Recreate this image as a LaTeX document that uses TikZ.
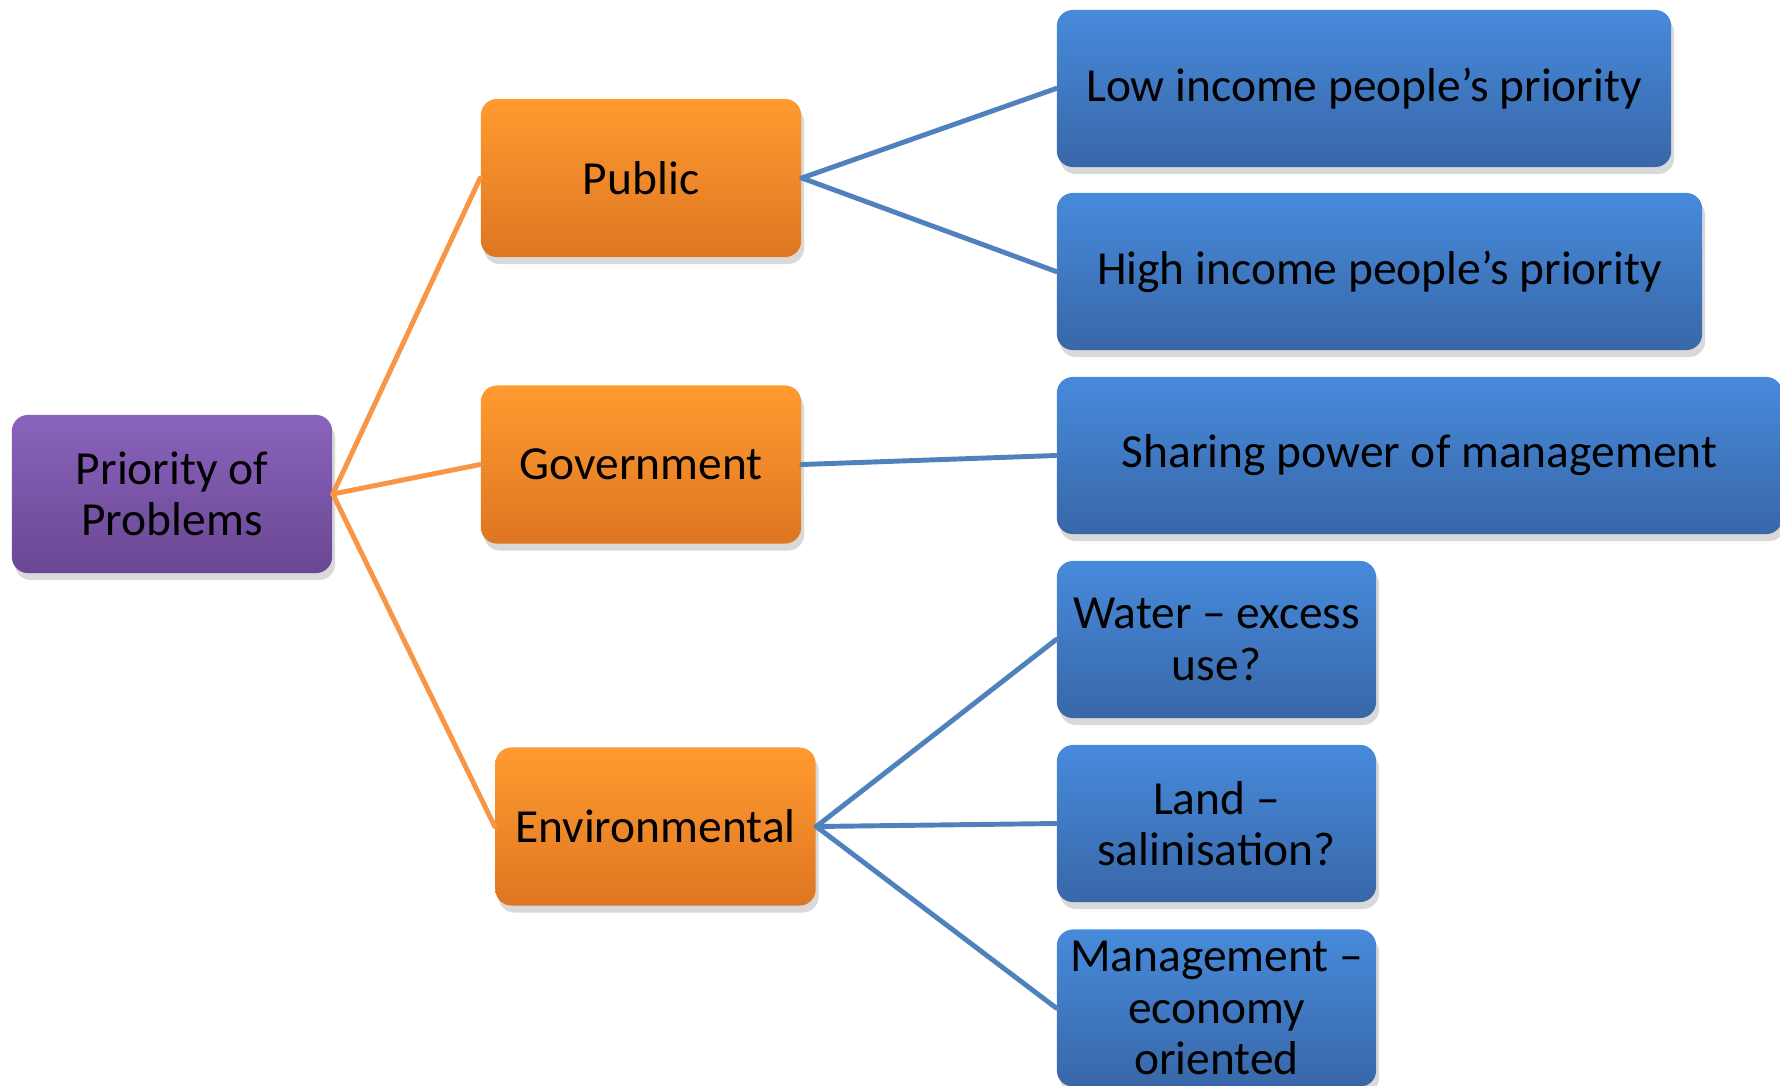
\documentclass[tikz,border=0pt]{standalone}
\usepackage{fontspec}
\setmainfont{Carlito}
\usetikzlibrary{shadows}

\definecolor{purpleTop}{HTML}{8A63BC}
\definecolor{purpleBot}{HTML}{6A4793}
\definecolor{orangeTop}{HTML}{FF9B30}
\definecolor{orangeBot}{HTML}{DE7622}
\definecolor{blueTop}{HTML}{478ADB}
\definecolor{blueBot}{HTML}{3867A8}
\definecolor{orangeLine}{HTML}{F79646}
\definecolor{blueLine}{HTML}{4F81BD}

\begin{document}
\begin{tikzpicture}[x=0.01cm, y=-0.01cm, line cap=round, line join=round]
	\tikzset{
		box/.style={rounded corners=1.6mm, align=center, inner sep=2pt,
			font=\fontsize{13.5}{14.6}\selectfont,
			drop shadow={shadow xshift=0.3mm, shadow yshift=-0.7mm, opacity=0.3}},
		rootbox/.style={box, top color=purpleTop, bottom color=purpleBot,
			minimum width=3.2cm, minimum height=1.58cm},
		groupbox/.style={box, top color=orangeTop, bottom color=orangeBot,
			minimum width=3.2cm, minimum height=1.58cm},
		leafbox/.style={box, top color=blueTop, bottom color=blueBot,
			minimum height=1.57cm},
		orangelink/.style={draw=orangeLine, line width=1.4pt},
		bluelink/.style={draw=blueLine, line width=1.4pt}
	}
	
	\useasboundingbox (0,0) rectangle (1780,1085);
	
	% first level
	\node[rootbox] (root) at (172,494) {Priority of\\Problems};
	
	% second level
	\node[groupbox] (public) at (641,178) {Public};
	\node[groupbox] (govt) at (641,464.5) {Government};
	\node[groupbox] (env) at (655.5,826.5) {Environmental};
	
	% third level
	\node[leafbox, minimum width=6.14cm] (low) at (1364,88.5) {Low income people’s priority};
	\node[leafbox, minimum width=6.45cm] (high) at (1379.5,271.5) {High income people’s priority};
	\node[leafbox, minimum width=7.25cm] (share) at (1419.5,455.5) {Sharing power of management};
	\node[leafbox, minimum width=3.19cm] (water) at (1216.5,639.5) {Water – excess\\use?};
	\node[leafbox, minimum width=3.19cm] (land) at (1216.5,823.5) {Land –\\salinisation?};
	\node[leafbox, minimum width=3.19cm] (mgmt) at (1216.5,1008) {Management –\\economy\\oriented};
	
	% links
	\draw[orangelink] (root.east) -- (public.west);
	\draw[orangelink] (root.east) -- (govt.west);
	\draw[orangelink] (root.east) -- (env.west);
	
	\draw[bluelink] (public.east) -- (low.west);
	\draw[bluelink] (public.east) -- (high.west);
	\draw[bluelink] (govt.east) -- (share.west);
	\draw[bluelink] (env.east) -- (water.west);
	\draw[bluelink] (env.east) -- (land.west);
	\draw[bluelink] (env.east) -- (mgmt.west);
	
\end{tikzpicture}
\end{document}
